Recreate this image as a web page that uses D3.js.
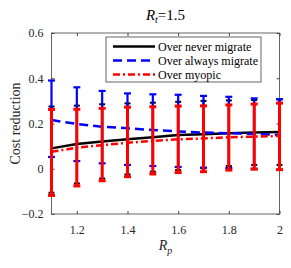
<!DOCTYPE html>
<html>
<head>
<meta charset="utf-8">
<script src="https://cdn.jsdelivr.net/npm/d3@7"></script>
<style>
  body { margin: 0; background: #fff; }
  text { font-family: "Liberation Serif", "Times New Roman", serif; }
</style>
</head>
<body>
<div id="chart"></div>
<script>
// Data
let rp = [1.1, 1.2, 1.3, 1.4, 1.5, 1.6, 1.7, 1.8, 1.9, 2.0];

let neverMean = [0.09, 0.109, 0.12, 0.13, 0.139, 0.149, 0.153, 0.157, 0.16, 0.162];
let neverHi = [0.275, 0.279, 0.285, 0.289, 0.292, 0.296, 0.3, 0.302, 0.304, 0.307];
let neverLo = [-0.106, -0.065, -0.043, -0.025, -0.013, -0.006, 0.002, 0.012, 0.017, 0.017];

let alwaysMean = [0.215, 0.198, 0.186, 0.179, 0.171, 0.165, 0.16, 0.157, 0.154, 0.15];
let alwaysHi = [0.39, 0.36, 0.344, 0.333, 0.329, 0.327, 0.322, 0.318, 0.311, 0.307];
let alwaysLo = [0.052, 0.034, 0.024, 0.017, 0.012, 0.008, 0.005, 0.003, 0.0, -0.005];

let myopicMean = [0.075, 0.093, 0.104, 0.115, 0.123, 0.13, 0.134, 0.139, 0.142, 0.145];
let myopicHi = [0.262, 0.263, 0.267, 0.272, 0.274, 0.277, 0.278, 0.282, 0.286, 0.29];
let myopicLo = [-0.118, -0.076, -0.053, -0.035, -0.023, -0.017, -0.013, -0.006, -0.002, -0.004];

let seriesNames = ["Over never migrate", "Over always migrate", "Over myopic"];
let xTicks = [1.2, 1.4, 1.6, 1.8, 2];
let yTicks = [-0.2, 0, 0.2, 0.4, 0.6];

// series styles
let styles = [
  { color: "#000000", dash: null, barWidth: 2, capW: 6 },
  { color: "#0000ff", dash: "9,5", barWidth: 2.2, capW: 7 },
  { color: "#ff0000", dash: "7,3,2,3", barWidth: 3, capW: 7 }
];

let series = [
  { name: seriesNames[0], mean: neverMean, hi: neverHi, lo: neverLo },
  { name: seriesNames[1], mean: alwaysMean, hi: alwaysHi, lo: alwaysLo },
  { name: seriesNames[2], mean: myopicMean, hi: myopicHi, lo: myopicLo }
];

let width = 291, height = 268;
let mLeft = 51.5, mRight = 279.5, mTop = 33, mBottom = 214;

let svg = d3.select("#chart").append("svg")
  .attr("width", width)
  .attr("height", height);

svg.append("rect").attr("width", width).attr("height", height).attr("fill", "#fff");

let x = d3.scaleLinear().domain([1.1, 2]).range([mLeft, mRight]);
let y = d3.scaleLinear().domain([-0.2, 0.6]).range([mBottom, mTop]);

let axisColor = "#404040";

// box
svg.append("rect")
  .attr("x", mLeft).attr("y", mTop)
  .attr("width", mRight - mLeft).attr("height", mBottom - mTop)
  .attr("fill", "none").attr("stroke", axisColor).attr("stroke-width", 0.8);

// bottom axis (ticks inward)
let xAxis = svg.append("g").attr("transform", "translate(0," + mBottom + ")")
  .call(d3.axisBottom(x).tickValues(xTicks).tickSizeInner(-3).tickSizeOuter(0).tickPadding(11)
    .tickFormat(d3.format("")));
xAxis.select(".domain").remove();
xAxis.selectAll("line").attr("stroke", axisColor);
xAxis.selectAll("text").attr("font-size", 12).attr("fill", "#262626")
  .style("font-family", "Liberation Serif");

let xTop = svg.append("g").attr("transform", "translate(0," + mTop + ")")
  .call(d3.axisTop(x).tickValues(xTicks).tickSizeInner(-3).tickSizeOuter(0).tickFormat(""));
xTop.select(".domain").remove();
xTop.selectAll("line").attr("stroke", axisColor);

let yAxis = svg.append("g").attr("transform", "translate(" + mLeft + ",0)")
  .call(d3.axisLeft(y).tickValues(yTicks).tickSizeInner(-3).tickSizeOuter(0).tickPadding(8)
    .tickFormat(d3.format("")));
yAxis.select(".domain").remove();
yAxis.selectAll("line").attr("stroke", axisColor);
yAxis.selectAll("text").attr("font-size", 12).attr("fill", "#262626")
  .style("font-family", "Liberation Serif");

let yRight = svg.append("g").attr("transform", "translate(" + mRight + ",0)")
  .call(d3.axisRight(y).tickValues(yTicks).tickSizeInner(-3).tickSizeOuter(0).tickFormat(""));
yRight.select(".domain").remove();
yRight.selectAll("line").attr("stroke", axisColor);

// series: line then error bars, later series on top
let line = d3.line().x(d => x(d[0])).y(d => y(d[1])).curve(d3.curveLinear);

series.forEach(function(s, i) {
  let st = styles[i];
  let g = svg.append("g");
  let pts = rp.map((r, j) => [r, s.mean[j]]);
  g.append("path")
    .attr("d", line(pts))
    .attr("fill", "none")
    .attr("stroke", st.color)
    .attr("stroke-width", 2.5)
    .attr("stroke-dasharray", st.dash);

  let bars = g.selectAll(".bar").data(rp).enter().append("g");
  bars.append("line")
    .attr("x1", d => x(d)).attr("x2", d => x(d))
    .attr("y1", (d, j) => y(s.lo[j])).attr("y2", (d, j) => y(s.hi[j]))
    .attr("stroke", st.color).attr("stroke-width", st.barWidth);
  bars.append("line")
    .attr("x1", d => x(d) - st.capW / 2).attr("x2", d => x(d) + st.capW / 2)
    .attr("y1", (d, j) => y(s.hi[j])).attr("y2", (d, j) => y(s.hi[j]))
    .attr("stroke", st.color).attr("stroke-width", st.barWidth);
  bars.append("line")
    .attr("x1", d => x(d) - st.capW / 2).attr("x2", d => x(d) + st.capW / 2)
    .attr("y1", (d, j) => y(s.lo[j])).attr("y2", (d, j) => y(s.lo[j]))
    .attr("stroke", st.color).attr("stroke-width", st.barWidth);
});

// legend
let legend = svg.append("g").attr("transform", "translate(106,37)");
legend.append("rect")
  .attr("width", 155).attr("height", 45)
  .attr("fill", "#fff").attr("stroke", axisColor).attr("stroke-width", 0.8);

series.forEach(function(s, i) {
  let st = styles[i];
  let ly = 9.5 + i * 14;
  legend.append("line")
    .attr("x1", 7).attr("x2", 49).attr("y1", ly).attr("y2", ly)
    .attr("stroke", st.color).attr("stroke-width", 2.5)
    .attr("stroke-dasharray", st.dash);
  legend.append("text")
    .attr("x", 52).attr("y", ly + 4)
    .attr("font-size", 12).attr("fill", "#000")
    .text(s.name);
});

// title R_t = 1.5
let title = svg.append("text")
  .attr("x", 165.5).attr("y", 20)
  .attr("text-anchor", "middle")
  .attr("font-size", 15).attr("fill", "#000");
title.append("tspan").attr("font-style", "italic").text("R");
title.append("tspan").attr("font-style", "italic").attr("font-size", 10).attr("dy", 3).text("t");
title.append("tspan").attr("dy", -3).text("=1.5");

// x label R_p
let xl = svg.append("text")
  .attr("x", 165.5).attr("y", 250)
  .attr("text-anchor", "middle")
  .attr("font-size", 14).attr("fill", "#262626");
xl.append("tspan").attr("font-style", "italic").text("R");
xl.append("tspan").attr("font-style", "italic").attr("font-size", 10).attr("dy", 4).text("p");

// y label
svg.append("text")
  .attr("transform", "translate(20,123.5) rotate(-90)")
  .attr("text-anchor", "middle")
  .attr("font-size", 14).attr("fill", "#262626")
  .text("Cost reduction");
</script>
</body>
</html>
